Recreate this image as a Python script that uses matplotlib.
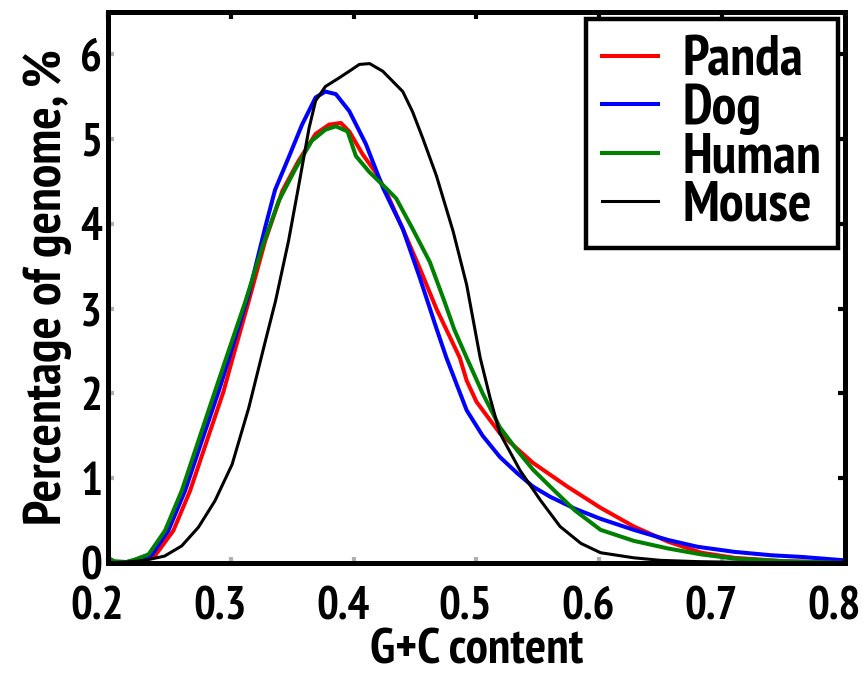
import matplotlib
matplotlib.use('Agg')
import matplotlib.pyplot as plt
import matplotlib.transforms as mtransforms

# G+C content distributions
panda_x = [0.20, 0.22, 0.238, 0.2532, 0.2668, 0.2805, 0.294, 0.301, 0.3146, 0.328, 0.342, 0.355, 0.369,
           0.38, 0.3896, 0.3964, 0.4073, 0.4182, 0.4264, 0.44, 0.4537, 0.4673, 0.4864, 0.492, 0.50,
           0.519, 0.546, 0.574, 0.601, 0.628, 0.656, 0.683, 0.71, 0.75, 0.80]
panda_y = [0.0, 0.01, 0.08, 0.38, 0.85, 1.44, 2.02, 2.39, 3.09, 3.8, 4.39, 4.74, 5.06,
           5.17, 5.19, 5.09, 4.82, 4.6, 4.38, 3.94, 3.48, 3.0, 2.42, 2.15, 1.9,
           1.53, 1.18, 0.9, 0.65, 0.43, 0.25, 0.12, 0.06, 0.02, 0.005]

dog_x = [0.20, 0.215, 0.225, 0.236, 0.2491, 0.2627, 0.2764, 0.29, 0.298, 0.3146, 0.328, 0.336, 0.347,
         0.358, 0.369, 0.377, 0.3855, 0.3964, 0.41, 0.4237, 0.44, 0.4537, 0.4673, 0.4755, 0.492,
         0.505, 0.519, 0.533, 0.546, 0.56, 0.58, 0.601, 0.628, 0.656, 0.68, 0.71, 0.74, 0.765, 0.80]
dog_y = [0.0, 0.01, 0.03, 0.1, 0.38, 0.85, 1.44, 2.02, 2.39, 3.17, 3.96, 4.4, 4.78,
         5.17, 5.49, 5.56, 5.53, 5.33, 4.94, 4.43, 3.94, 3.37, 2.77, 2.42, 1.8,
         1.5, 1.25, 1.06, 0.9, 0.78, 0.64, 0.52, 0.39, 0.27, 0.19, 0.13, 0.09, 0.07, 0.03]

human_x = [0.20, 0.205, 0.215, 0.222, 0.233, 0.2464, 0.26, 0.2736, 0.287, 0.297, 0.312, 0.3255, 0.339,
           0.353, 0.366, 0.377, 0.3855, 0.395, 0.4018, 0.4128, 0.4264, 0.4346, 0.448, 0.462, 0.4735,
           0.482, 0.492, 0.505, 0.519, 0.533, 0.546, 0.56, 0.58, 0.601, 0.628, 0.656, 0.683, 0.71,
           0.75, 0.80]
human_y = [0.06, 0.02, 0.01, 0.04, 0.1, 0.38, 0.85, 1.44, 2.02, 2.45, 3.09, 3.72, 4.27,
           4.66, 4.98, 5.11, 5.15, 5.09, 4.8, 4.61, 4.42, 4.3, 3.94, 3.55, 3.1,
           2.75, 2.42, 2.0, 1.6, 1.33, 1.1, 0.9, 0.62, 0.39, 0.26, 0.17, 0.1, 0.05,
           0.02, 0.0]

mouse_x = [0.20, 0.215, 0.23, 0.246, 0.26, 0.2736, 0.287, 0.301, 0.3146, 0.328, 0.3364, 0.347, 0.355,
           0.3637, 0.369, 0.377, 0.388, 0.3964, 0.4046, 0.413, 0.4237, 0.44, 0.448, 0.4565, 0.4673,
           0.481, 0.492, 0.503, 0.511, 0.519, 0.5355, 0.552, 0.568, 0.585, 0.601, 0.628, 0.65, 0.68,
           0.72, 0.80]
mouse_y = [0.0, 0.01, 0.03, 0.08, 0.2, 0.42, 0.73, 1.16, 1.83, 2.61, 3.09, 3.8, 4.43,
           5.13, 5.45, 5.62, 5.72, 5.8, 5.88, 5.89, 5.8, 5.56, 5.32, 5.0, 4.57,
           3.91, 3.28, 2.42, 1.95, 1.53, 1.09, 0.74, 0.43, 0.23, 0.12, 0.06, 0.03, 0.015,
           0.005, 0.0]

xticks = [0.2, 0.3, 0.4, 0.5, 0.6, 0.7, 0.8]
yticks = [0, 1, 2, 3, 4, 5, 6]

# narrow bold face, close to the original Arial Narrow look
plt.rcParams['font.family'] = ['PT Sans Narrow', 'Fira Sans Condensed', 'IBM Plex Sans Condensed',
                               'Barlow Semi Condensed', 'Liberation Sans', 'DejaVu Sans']
plt.rcParams['font.weight'] = 'bold'

fig = plt.figure(figsize=(8.64, 6.79), dpi=100)
ax = fig.add_axes([0.125, 0.171, 0.853, 0.8115])

ax.plot(panda_x, panda_y, color=(1, 0, 0), lw=2.9, label='Panda')
ax.plot(dog_x, dog_y, color=(0, 0, 1), lw=2.9, label='Dog')
ax.plot(human_x, human_y, color=(0, 0.5, 0), lw=2.9, label='Human')
ax.plot(mouse_x, mouse_y, color='black', lw=2.2, label='Mouse')

ax.set_xlim(0.2, 0.8)
ax.set_ylim(0, 6.5)
ax.set_xticks(xticks)
ax.set_yticks(yticks)
ax.set_xticklabels([str(t) for t in xticks])
ax.set_yticklabels([str(t) for t in yticks])
ax.tick_params(direction='in', length=4, width=3, color='#b0b0b0', labelsize=33)
ax.tick_params(axis='x', pad=17)
ax.tick_params(axis='y', pad=4)

# the original x tick labels sit a little left of their ticks
shift = mtransforms.ScaledTranslation(-0.11, 0, fig.dpi_scale_trans)
for lab in ax.get_xticklabels():
    lab.set_transform(lab.get_transform() + shift)

for s in ax.spines.values():
    s.set_linewidth(3.6)

# black ticks on the top and right frame
top = ax.secondary_xaxis('top')
top.set_xticks(xticks)
top.set_xticklabels([])
top.tick_params(direction='in', length=5, width=3, color='black')
right = ax.secondary_yaxis('right')
right.set_yticks(yticks)
right.set_yticklabels([])
right.tick_params(direction='in', length=5, width=3, color='black')
for sec in (top, right):
    for s in sec.spines.values():
        s.set_linewidth(3.6)

ax.set_xlabel('G+C content', fontsize=36, fontweight='bold', labelpad=0)
ax.set_ylabel('Percentage of genome, %', fontsize=38, fontweight='bold', labelpad=6)

leg = ax.legend(loc='upper right', fontsize=40, frameon=True, fancybox=False,
                framealpha=1, edgecolor='black', handlelength=1.0, handletextpad=0.45,
                labelspacing=-0.05, borderpad=0.3, borderaxespad=0.12)
leg.get_frame().set_linewidth(3.2)
for t in leg.get_texts():
    t.set_fontweight('bold')

fig.savefig('out.png', dpi=100)
